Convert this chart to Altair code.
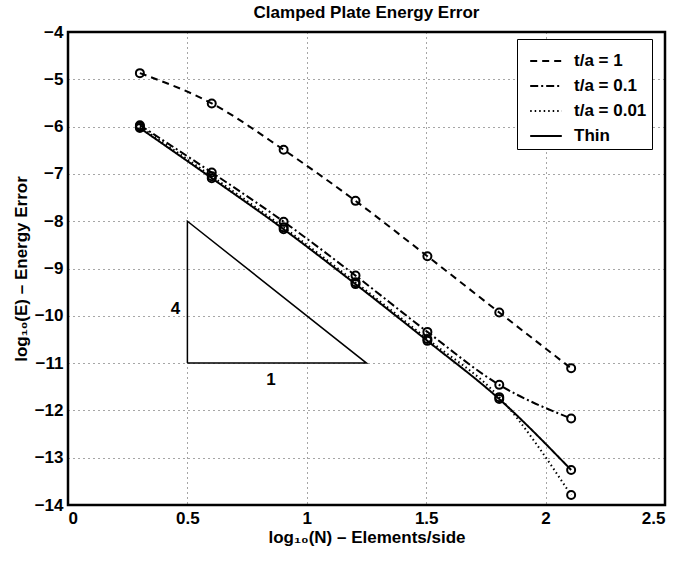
import altair as alt
import pandas as pd

# data
log_n = [0.301, 0.602, 0.903, 1.204, 1.505, 1.806, 2.107]
series_names = ["t/a = 1", "t/a = 0.1", "t/a = 0.01", "Thin"]
err_ta1 = [-4.87, -5.51, -6.49, -7.57, -8.74, -9.93, -11.11]
err_ta01 = [-5.97, -6.97, -8.01, -9.15, -10.34, -11.46, -12.17]
err_ta001 = [-6.00, -7.05, -8.13, -9.29, -10.49, -11.72, -13.79]
err_thin = [-6.03, -7.09, -8.17, -9.33, -10.53, -11.76, -13.26]

tri_x = [0.5, 0.5, 1.25, 0.5]
tri_y = [-11.0, -8.0, -11.0, -11.0]
lbl_text = ["4", "1"]
lbl_x = [0.45, 0.85]
lbl_y = [-9.85, -11.35]

x_ticks = [0, 0.5, 1, 1.5, 2, 2.5]
y_ticks = [-14, -13, -12, -11, -10, -9, -8, -7, -6, -5, -4]

rows = []
for name, vals in zip(series_names, [err_ta1, err_ta01, err_ta001, err_thin]):
    for i, (xv, yv) in enumerate(zip(log_n, vals)):
        rows.append({"series": name, "x": xv, "y": yv, "i": i})
df = pd.DataFrame(rows)

tri = pd.DataFrame({"x": tri_x, "y": tri_y, "o": list(range(len(tri_x)))})
lbls = pd.DataFrame({"t": lbl_text, "x": lbl_x, "y": lbl_y})

FONT = "Liberation Sans"

xs = alt.Scale(domain=[0, 2.5], nice=False, zero=False)
ys = alt.Scale(domain=[-14, -4], nice=False, zero=False)

xax = alt.Axis(values=x_ticks, title="log₁₀(N) – Elements/side", format="~g",
               grid=True, ticks=False, domain=False, labelPadding=5, titlePadding=3)
yax = alt.Axis(values=y_ticks, title="log₁₀(E) – Energy Error", format="d",
               grid=True, ticks=False, domain=False, labelPadding=5, titlePadding=4)

lines = alt.Chart(df).mark_line(color="black", strokeWidth=2, interpolate="monotone").encode(
    x=alt.X("x:Q", scale=xs, axis=xax),
    y=alt.Y("y:Q", scale=ys, axis=yax),
    strokeDash=alt.StrokeDash(
        "series:N",
        scale=alt.Scale(domain=series_names,
                        range=[[7, 5], [8, 3, 2, 3], [1.5, 3], [1, 0]]),
        legend=alt.Legend(
            title=None, orient="none", legendX=449, legendY=7,
            strokeColor="black", fillColor="white", padding=5,
            symbolType="stroke", symbolSize=1000, symbolStrokeWidth=2,
            symbolStrokeColor="black", labelFont=FONT, labelFontSize=17,
            labelFontWeight="bold", labelColor="black", rowPadding=-10,
            labelOffset=11, symbolOffset=7, cornerRadius=0,
        ),
    ),
    order="i:Q",
)

points = alt.Chart(df).mark_point(shape="circle", filled=False, color="black",
                                  size=64, strokeWidth=2, opacity=1).encode(
    x=alt.X("x:Q", scale=xs),
    y=alt.Y("y:Q", scale=ys),
    detail="series:N",
)

triangle = alt.Chart(tri).mark_line(color="black", strokeWidth=1.5).encode(
    x=alt.X("x:Q", scale=xs),
    y=alt.Y("y:Q", scale=ys),
    order="o:Q",
)

labels = alt.Chart(lbls).mark_text(font=FONT, fontSize=17, fontWeight="bold",
                                   color="black").encode(
    x=alt.X("x:Q", scale=xs),
    y=alt.Y("y:Q", scale=ys),
    text="t:N",
)

chart = alt.layer(lines, points, triangle, labels).properties(
    width=597, height=473,
    padding={"left": 68, "top": 32, "right": 16, "bottom": 58},
    autosize=alt.AutoSizeParams(type="none"),
    title=alt.TitleParams("Clamped Plate Energy Error", font=FONT, fontSize=17,
                          fontWeight="bold", color="black", offset=1,
                          anchor="middle", frame="group"),
).configure_view(
    stroke="black", strokeWidth=2.5,
).configure_axis(
    labelFont=FONT, labelFontSize=17, labelFontWeight="bold", labelColor="black",
    titleFont=FONT, titleFontSize=17, titleFontWeight="bold", titleColor="black",
    gridColor="#000000", gridDash=[1, 4], gridOpacity=0.7, gridWidth=1,
)

chart.save("out.html", embed_options={"renderer": "svg", "actions": False})
